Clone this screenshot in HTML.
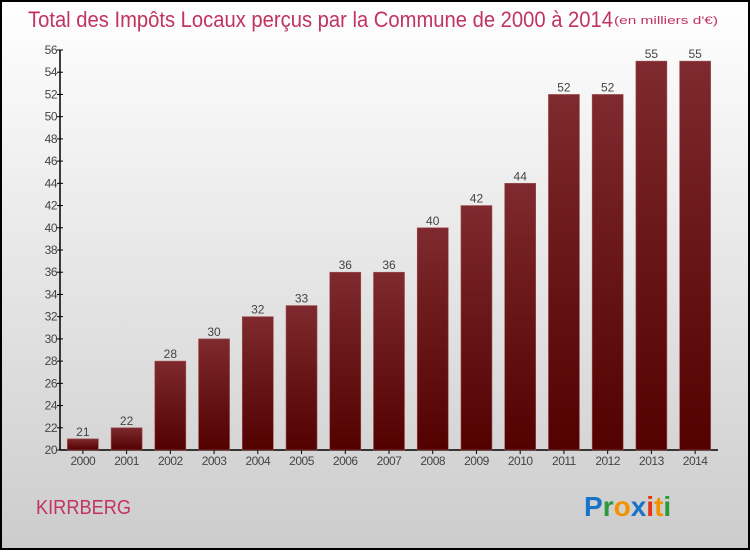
<!DOCTYPE html>
<html><head><meta charset="utf-8"><style>
body{margin:0;width:750px;height:550px;overflow:hidden;font-family:"Liberation Sans",sans-serif}
</style></head><body>
<svg id="c" width="750" height="550" xmlns="http://www.w3.org/2000/svg">
<defs>
<linearGradient id="bg" x1="0" y1="0" x2="0" y2="1"><stop offset="0" stop-color="#ffffff"/><stop offset="1" stop-color="#cccccc"/></linearGradient>
<linearGradient id="bar" x1="0" y1="0" x2="0" y2="1"><stop offset="0" stop-color="#7e2a2e"/><stop offset="1" stop-color="#520000"/></linearGradient>
</defs>
<rect x="1" y="1" width="748" height="548" fill="url(#bg)" stroke="#000" stroke-width="2"/>
<text x="28" y="27" font-size="22" fill="#c2335f" textLength="585" lengthAdjust="spacingAndGlyphs">Total des Impôts Locaux perçus par la Commune de 2000 à 2014</text>
<text x="614" y="24" font-size="11" fill="#c2335f" textLength="104" lengthAdjust="spacingAndGlyphs">(en milliers d'€)</text>
<text x="36" y="514" font-size="20" fill="#c2335f" textLength="95" lengthAdjust="spacingAndGlyphs">KIRRBERG</text>
<g font-size="28" font-weight="bold" font-family="'Liberation Sans',sans-serif">
<text x="584" y="516"><tspan fill="#1a73c8">P</tspan><tspan fill="#2a9a3a">r</tspan><tspan fill="#f39200">o</tspan><tspan fill="#1a73c8">x</tspan><tspan fill="#e63312">i</tspan><tspan fill="#f39200">t</tspan><tspan fill="#2a9a3a">i</tspan></text>
</g>
<g id="axes"></g><g id="bars"></g>
</svg>
<script>
const categories=["2000","2001","2002","2003","2004","2005","2006","2007","2008","2009","2010","2011","2012","2013","2014"];
const values=[21,22,28,30,32,33,36,36,40,42,44,52,52,55,55];
const yTicks=[20,22,24,26,28,30,32,34,36,38,40,42,44,46,48,50,52,54,56];
const NS="http://www.w3.org/2000/svg";
const x0=60,x1=718,yTop=50,yBot=450,yMin=20,yMax=56;
const step=(x1-x0-2)/categories.length;
const y=v=>yBot-(v-yMin)/(yMax-yMin)*(yBot-yTop);
const xc=i=>x0+7+step*(i+0.5)-6;
function mk(t,a,p){const e=document.createElementNS(NS,t);for(const k in a)e.setAttribute(k,a[k]);p.appendChild(e);return e;}
const ax=document.getElementById('axes'),bs=document.getElementById('bars');
const yl=mk('line',{x1:x0,y1:yTop,x2:x0,y2:yBot,stroke:'#000','stroke-width':1.5},ax);


const xl=mk('line',{x1:x0,y1:yBot,x2:x1,y2:yBot,stroke:'#000','stroke-width':1.5},ax);


yTicks.forEach(v=>{
 mk('line',{x1:x0-3,y1:y(v),x2:x0+3,y2:y(v),stroke:'#000'},ax);
 const t=mk('text',{x:x0-3,y:y(v)+4,'text-anchor':'end','font-size':12,fill:'#444','letter-spacing':'-0.5'},ax);
 t.textContent=v;
 
 
});
categories.forEach((c,i)=>{
 const cx=xc(i),w=31;
 const r=mk('rect',{x:cx-w/2,y:y(values[i]),width:w,height:yBot-y(values[i]),fill:'url(#bar)',stroke:'#a05050','stroke-width':0.6},bs);
 
 
 const l=mk('text',{x:cx,y:y(values[i])-3,'text-anchor':'middle','font-size':12,fill:'#444'},bs);
 l.textContent=values[i];
 
 
 mk('line',{x1:cx,y1:yBot,x2:cx,y2:yBot+4,stroke:'#000'},ax);
 const t=mk('text',{x:cx,y:yBot+15,'text-anchor':'middle','font-size':12,fill:'#444','letter-spacing':'-0.5'},ax);
 t.textContent=c;
 
 
});
</script>
</body></html>
